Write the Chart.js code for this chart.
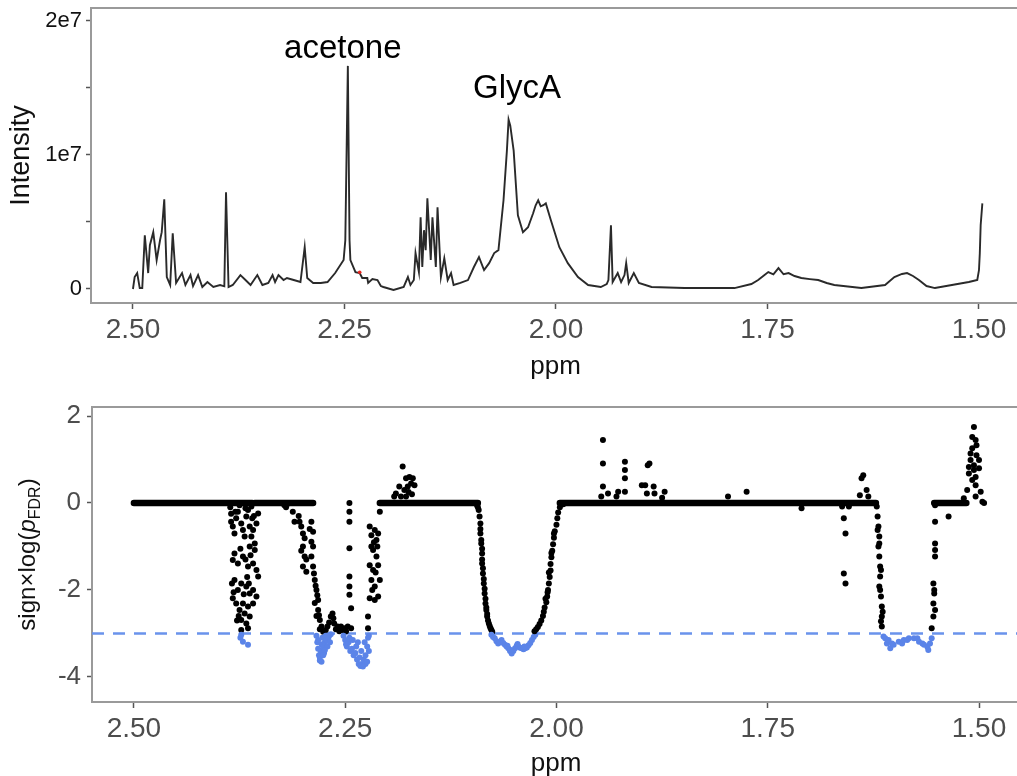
<!DOCTYPE html>
<html>
<head>
<meta charset="utf-8">
<script src="https://cdn.jsdelivr.net/npm/chart.js@4.4.1/dist/chart.umd.min.js"></script>
<style>
  html, body { margin: 0; padding: 0; background: #fff; overflow: hidden; width: 1017px; height: 776px; }
  #spectrum { position: absolute; left: 0; top: 0; }
  #pvalues { position: absolute; left: 0; top: 385px; }
</style>
</head>
<body>
<canvas id="spectrum" width="1030" height="385"></canvas>
<canvas id="pvalues" width="1030" height="400"></canvas>
<script>
// x axis (ppm, reversed)
const ppmTicks = [2.50, 2.25, 2.00, 1.75, 1.50];

// top panel: spectrum, intensity in units of 1e6
const specPpm = [
  2.500, 2.498, 2.495, 2.492, 2.489, 2.486, 2.482, 2.480, 2.476, 2.472, 2.468, 2.466, 2.463, 2.460, 2.456, 2.453,
  2.449, 2.442, 2.438, 2.432, 2.429, 2.423, 2.418, 2.412, 2.405, 2.397, 2.392, 2.390, 2.387, 2.382, 2.373, 2.367,
  2.361, 2.353, 2.347, 2.340, 2.335, 2.332, 2.328, 2.322, 2.318, 2.310, 2.302, 2.297, 2.294, 2.287, 2.278, 2.270,
  2.261, 2.251, 2.249, 2.246, 2.244, 2.243, 2.237, 2.232, 2.229, 2.223, 2.222, 2.217, 2.211, 2.207, 2.204, 2.192,
  2.180, 2.175, 2.172, 2.168, 2.166, 2.162, 2.160, 2.158, 2.156, 2.154, 2.152, 2.148, 2.146, 2.142, 2.140, 2.136,
  2.132, 2.128, 2.124, 2.121, 2.113, 2.104, 2.097, 2.091, 2.085, 2.079, 2.073, 2.068, 2.062, 2.058, 2.056, 2.054,
  2.050, 2.045, 2.039, 2.033, 2.027, 2.024, 2.021, 2.018, 2.015, 2.012, 2.006, 1.996, 1.986, 1.974, 1.962, 1.947,
  1.940, 1.938, 1.935, 1.933, 1.927, 1.923, 1.919, 1.917, 1.914, 1.908, 1.902, 1.887, 1.848, 1.789, 1.769, 1.761,
  1.755, 1.749, 1.743, 1.737, 1.731, 1.725, 1.718, 1.710, 1.700, 1.690, 1.680, 1.671, 1.639, 1.611, 1.600, 1.591,
  1.585, 1.578, 1.571, 1.562, 1.552, 1.532, 1.512, 1.502, 1.500, 1.499, 1.498, 1.496
];
const specInt = [
  0.00, 0.89, 1.19, 0.07, 0.07, 4.01, 1.19, 3.27, 4.24, 2.16, 3.64, 4.24, 6.69, 0.89, 0.30, 4.16,
  0.45, 1.19, 0.30, 1.04, 0.22, 1.04, 0.15, 0.52, 0.15, 0.30, 0.20, 7.21, 0.15, 0.30, 1.04, 0.67,
  0.30, 1.04, 0.30, 0.45, 1.04, 0.52, 1.04, 0.67, 0.82, 0.67, 0.52, 3.12, 0.82, 0.45, 0.45, 0.52,
  1.19, 2.16, 3.64, 16.65, 3.64, 2.16, 1.26, 1.19, 0.82, 0.82, 0.45, 0.74, 0.67, 0.22, 0.15, -0.07,
  0.15, 0.89, 0.30, 0.67, 2.68, 1.26, 5.35, 1.64, 4.39, 2.90, 6.77, 2.16, 5.35, 1.64, 6.10, 0.89,
  2.30, 0.67, 1.19, 0.30, 0.45, 0.67, 1.64, 2.38, 1.41, 1.93, 2.68, 2.90, 6.62, 10.33, 12.64, 12.19,
  10.33, 5.50, 4.24, 4.61, 5.65, 6.25, 6.62, 6.17, 6.25, 6.39, 5.13, 3.12, 1.93, 0.89, 0.30, 0.15,
  0.37, 0.67, 4.76, 0.52, 1.19, 0.52, 1.04, 1.93, 0.45, 1.19, 0.45, 0.15, 0.07, 0.07, 0.37, 0.67,
  0.97, 1.26, 1.10, 1.56, 1.10, 1.19, 0.97, 0.82, 0.74, 0.67, 0.45, 0.30, 0.07, 0.30, 0.89, 1.12,
  1.19, 0.97, 0.67, 0.22, 0.07, 0.30, 0.52, 0.67, 1.40, 2.68, 4.76, 6.39
];
const intensityTicks = [0, 5, 10, 15, 20];
const markPpm = [2.232];
const markInt = [1.25];

// peak labels
const labelText = ['acetone', 'GlycA'];
const labelPpm = [2.252, 2.046];
const labelInt = [17.25, 14.27];

// bottom panel: sign x log(pFDR)
const threshold = -3;
const pTicks = [-4, -2, 0, 2];
// stretches where every point sits at 0
const zeroFrom = [2.500, 2.357, 2.209, 1.996, 1.553];
const zeroTo   = [2.360, 2.288, 2.093, 1.622, 1.515];

const dip238 = [
  [2.386,-0.10],[2.385,-0.25],[2.385,-0.43],[2.383,-0.54],[2.381,-0.70],[2.380,-0.20],[2.379,-0.35],[2.377,-0.20],
  [2.375,-0.05],[2.373,-0.47],[2.371,-0.62],[2.369,-0.77],[2.368,-0.12],[2.367,-0.31],[2.365,-0.16],[2.363,-0.54],
  [2.361,-0.77],[2.361,-0.08],[2.360,-0.35],[2.359,-0.62],[2.358,-0.30],[2.357,-0.93],[2.355,-0.47],[2.353,-0.24],
  [2.357,-1.08],[2.363,-1.00],[2.374,-1.05],[2.381,-1.16],[2.383,-1.31],[2.377,-1.39],[2.371,-1.23],[2.368,-1.30],
  [2.362,-1.20],[2.365,-1.46],[2.359,-1.39],[2.355,-1.54],[2.353,-1.69],[2.366,-1.70],[2.381,-1.77],[2.384,-1.85],
  [2.377,-2.00],[2.373,-1.85],[2.367,-1.92],[2.364,-1.85],[2.363,-2.08],[2.359,-2.00],[2.355,-2.15],[2.382,-2.05],
  [2.383,-2.19],[2.370,-2.10],[2.379,-2.31],[2.371,-2.31],[2.365,-2.38],[2.359,-2.31],[2.375,-2.46],[2.369,-2.54],
  [2.376,-2.60],[2.363,-2.61],[2.373,-2.69],[2.378,-2.70],[2.367,-2.77],[2.365,-2.88],[2.373,-2.92],
  [2.374,-3.10],[2.373,-3.03],[2.371,-3.19],[2.365,-3.26]
];
const dip225 = [
  [2.322,-0.05],[2.320,-0.10],[2.318,-0.02],[2.312,-0.20],[2.310,-0.43],[2.305,-0.30],[2.304,-0.43],[2.302,-0.54],
  [2.300,-0.70],[2.298,-0.81],[2.300,-1.00],[2.302,-1.10],[2.298,-1.23],[2.296,-1.30],[2.300,-1.46],[2.296,-1.58],
  [2.292,-0.60],[2.290,-0.43],[2.288,-0.66],[2.290,-0.89],[2.288,-1.00],[2.290,-1.23],[2.288,-1.46],[2.287,-1.62],
  [2.286,-1.77],[2.285,-1.90],[2.284,-2.00],[2.283,-2.12],[2.282,-2.23],[2.282,-2.46],[2.286,-2.30],[2.284,-2.60],
  [2.281,-2.58],[2.280,-2.69],[2.280,-2.90],[2.278,-2.84],[2.276,-2.96],[2.273,-2.92],[2.271,-2.84],[2.269,-2.75],
  [2.267,-2.61],[2.265,-2.54],[2.264,-2.65],[2.263,-2.77],[2.261,-2.90],[2.259,-2.84],[2.257,-2.95],[2.255,-2.84],
  [2.253,-2.92],[2.251,-2.88],[2.249,-2.95],[2.247,-2.84],[2.243,-2.88],
  [2.245,0.00],[2.245,-0.20],[2.245,-0.43],[2.245,-1.04],[2.245,-1.69],[2.245,-1.92],[2.245,-2.11],[2.243,-2.42],
  [2.223,-2.61],[2.223,-2.88],
  [2.209,-0.20],[2.221,-0.54],[2.219,-0.74],[2.216,-0.90],[2.215,-0.62],[2.213,-0.85],[2.212,-1.00],[2.211,-0.70],
  [2.219,-1.00],[2.217,-1.08],[2.213,-1.23],[2.221,-1.43],[2.217,-1.54],[2.214,-1.60],[2.211,-1.43],[2.219,-1.77],
  [2.218,-2.00],[2.215,-1.92],[2.209,-1.77],[2.221,-2.19],[2.215,-2.23],[2.211,-2.15],
  [2.284,-3.05],[2.283,-3.20],[2.282,-3.35],[2.281,-3.50],[2.280,-3.62],[2.279,-3.40],[2.278,-3.25],[2.277,-3.10],
  [2.276,-3.30],[2.275,-3.45],[2.274,-3.20],[2.273,-3.05],[2.272,-3.15],[2.271,-3.30],[2.270,-3.10],[2.269,-3.05],
  [2.268,-3.20],[2.267,-3.02],[2.280,-3.55],[2.278,-3.65],[2.276,-3.50],[2.282,-3.15],[2.274,-3.38],
  [2.252,-3.05],[2.250,-3.15],[2.248,-3.30],[2.246,-3.20],[2.244,-3.40],[2.242,-3.35],[2.240,-3.50],[2.238,-3.45],
  [2.236,-3.60],[2.234,-3.70],[2.232,-3.75],[2.230,-3.70],[2.228,-3.60],[2.226,-3.50],[2.224,-3.30],[2.223,-3.10],
  [2.222,-3.05],[2.226,-3.70],[2.229,-3.76],[2.233,-3.55],[2.237,-3.30],[2.241,-3.15],[2.245,-3.10],[2.249,-3.25],
  [2.224,-3.65],[2.222,-3.40],[2.235,-3.20],[2.231,-3.40],[2.227,-3.20]
];
const up218 = [
  [2.192,0.15],[2.190,0.22],[2.186,0.38],[2.184,0.15],[2.182,0.84],[2.180,0.30],[2.178,0.57],[2.178,0.15],
  [2.176,0.38],[2.174,0.60],[2.172,0.45],[2.170,0.57],[2.168,0.41],[2.175,0.25],[2.171,0.20]
];
const dipGlycA = [
  [2.094,-0.05],[2.093,-0.10],[2.092,-0.16],[2.091,-0.31],[2.090,-0.47],[2.090,-0.60],[2.090,-0.70],[2.089,-0.85],
  [2.089,-0.93],[2.088,-1.05],[2.088,-1.16],[2.088,-1.30],[2.088,-1.39],[2.087,-1.50],[2.087,-1.62],[2.086,-1.75],
  [2.086,-1.85],[2.085,-1.97],[2.085,-2.08],[2.084,-2.20],[2.084,-2.31],[2.083,-2.40],[2.083,-2.46],[2.082,-2.55],
  [2.082,-2.61],[2.081,-2.70],[2.080,-2.77],[2.079,-2.83],[2.078,-2.88],[2.077,-2.92],[2.076,-2.96],
  [2.077,-3.03],[2.075,-3.08],[2.073,-3.11],[2.071,-3.18],[2.069,-3.23],[2.067,-3.20],[2.065,-3.15],[2.063,-3.22],
  [2.061,-3.26],[2.059,-3.30],[2.057,-3.34],[2.055,-3.40],[2.053,-3.46],[2.051,-3.40],[2.049,-3.34],[2.047,-3.28],
  [2.045,-3.30],[2.043,-3.33],[2.041,-3.34],[2.039,-3.36],[2.037,-3.34],[2.035,-3.32],[2.033,-3.27],[2.031,-3.22],
  [2.029,-3.15],[2.027,-3.08],[2.025,-3.03],[2.054,-3.38],[2.058,-3.28],[2.046,-3.24],[2.038,-3.30],
  [2.026,-2.95],[2.024,-2.90],[2.022,-2.85],[2.020,-2.78],[2.018,-2.70],[2.016,-2.60],[2.015,-2.50],[2.014,-2.40],
  [2.012,-2.28],[2.011,-2.15],[2.010,-2.00],[2.009,-1.85],[2.008,-1.70],[2.007,-1.55],[2.007,-1.40],[2.006,-1.25],
  [2.005,-1.10],[2.004,-0.95],[2.003,-0.80],[2.002,-0.65],[2.000,-0.50],[1.999,-0.35],[1.998,-0.22],[1.996,-0.10],
  [1.992,-0.03],[2.013,-2.20],[2.009,-1.60],[2.006,-1.15],[2.003,-0.70],[2.0105,-2.05]
];
const up19 = [
  [1.947,0.15],[1.945,1.45],[1.945,0.91],[1.945,0.38],[1.939,0.22],[1.929,0.15],[1.927,0.26],[1.919,0.95],
  [1.919,0.76],[1.919,0.57],[1.919,0.26],[1.899,0.41],[1.895,0.41],[1.893,0.22],[1.892,0.87],[1.890,0.91],
  [1.885,0.38],[1.884,0.22],[1.872,0.26],[1.875,0.12],[1.797,0.15],[1.775,0.26],[1.710,-0.12]
];
const dip16 = [
  [1.662,-0.08],[1.660,-0.35],[1.658,-0.70],[1.660,-1.62],[1.658,-1.85],[1.654,-0.08],[1.641,0.18],[1.639,0.57],
  [1.637,0.64],[1.633,0.30],[1.631,0.15],
  [1.621,-0.08],[1.620,-0.31],[1.619,-0.54],[1.618,-0.77],[1.619,-1.00],[1.618,-1.23],[1.617,-1.46],[1.617,-1.69],
  [1.618,-1.92],[1.616,-2.15],[1.615,-2.38],[1.615,-2.61],[1.615,-2.84],[1.620,-0.62],[1.618,-0.93],[1.616,-1.54],
  [1.617,-2.00],[1.614,-2.50],[1.616,-2.72],
  [1.613,-3.07],[1.611,-3.11],[1.609,-3.23],[1.607,-3.15],[1.605,-3.34],[1.603,-3.23],[1.601,-3.26],[1.595,-3.19],
  [1.591,-3.23],[1.589,-3.15],[1.585,-3.15],[1.583,-3.11],[1.577,-3.11],[1.573,-3.11],[1.571,-3.19],[1.567,-3.23],
  [1.565,-3.26],[1.561,-3.31],[1.560,-3.38],[1.558,-3.23],[1.556,-3.11],
  [1.556,-2.88],[1.554,-2.61],[1.552,-2.46],[1.554,-2.31],[1.553,-2.08],[1.553,-2.00],[1.554,-1.85],[1.552,-1.23],
  [1.552,-1.08],[1.552,-0.93],[1.552,-0.43],[1.552,-0.05],[1.536,-0.31]
];
const up15 = [
  [1.506,1.75],[1.508,1.52],[1.504,1.45],[1.503,1.33],[1.508,1.26],[1.510,1.14],[1.503,1.10],[1.510,0.99],
  [1.500,0.99],[1.506,0.87],[1.512,0.83],[1.500,0.80],[1.506,0.76],[1.512,0.68],[1.504,0.60],[1.508,0.53],
  [1.504,0.41],[1.514,0.30],[1.498,0.26],[1.504,0.15],[1.518,0.11],[1.496,0.03],[1.494,0.00]
];

const FONT = '"Liberation Sans", Arial, sans-serif';
const BLUE = '#5b84e8';

// keep the plot area where we put it: no extra room for edge labels
function noPad(s) { s.paddingTop = 0; s.paddingBottom = 0; s.paddingLeft = 0; s.paddingRight = 0; }

function ppmAxis(height, titlePad) {
  return {
    type: 'linear', reverse: true, min: 1.4515, max: 2.5496,
    afterBuildTicks: s => { s.ticks = ppmTicks.map(v => ({ value: v })); },
    afterFit: s => { s.height = height; noPad(s); },
    ticks: { callback: v => v.toFixed(2), color: '#4d4d4d', font: { family: FONT, size: 28 }, padding: 4, autoSkip: false, maxRotation: 0 },
    grid: { drawOnChartArea: false, tickLength: 6, tickColor: '#555', tickWidth: 1.5 },
    border: { display: false },
    title: { display: true, text: 'ppm', color: '#111', font: { family: FONT, size: 26 }, padding: { top: 0, bottom: titlePad } }
  };
}

// grey frame round the plot area
const frame = {
  id: 'frame',
  beforeDatasetsDraw(chart) {
    const { left, top, right, bottom } = chart.chartArea;
    const ctx = chart.ctx;
    ctx.save();
    ctx.strokeStyle = '#9a9a9a';
    ctx.lineWidth = 2;
    ctx.strokeRect(left, top, right - left, bottom - top);
    ctx.restore();
  }
};

const peakLabels = {
  id: 'peakLabels',
  afterDatasetsDraw(chart) {
    const ctx = chart.ctx;
    ctx.save();
    ctx.fillStyle = '#000';
    ctx.font = '33px ' + FONT;
    ctx.textAlign = 'center';
    ctx.textBaseline = 'alphabetic';
    labelText.forEach((t, i) => {
      ctx.fillText(t, chart.scales.x.getPixelForValue(labelPpm[i]), chart.scales.y.getPixelForValue(labelInt[i]));
    });
    ctx.restore();
  }
};

// y title with italic p and subscript FDR
const pTitle = {
  id: 'pTitle',
  afterDraw(chart) {
    const ctx = chart.ctx;
    const { top, bottom } = chart.chartArea;
    const parts = [
      { t: 'sign\u00d7log(', f: '24px ' + FONT, dy: 0 },
      { t: 'p', f: 'italic 24px ' + FONT, dy: 0 },
      { t: 'FDR', f: '16px ' + FONT, dy: 5 },
      { t: ')', f: '24px ' + FONT, dy: 0 }
    ];
    ctx.save();
    let w = 0;
    parts.forEach(p => { ctx.font = p.f; p.w = ctx.measureText(p.t).width; w += p.w; });
    ctx.translate(35, (top + bottom) / 2);
    ctx.rotate(-Math.PI / 2);
    ctx.fillStyle = '#111';
    ctx.textBaseline = 'alphabetic';
    let x = -w / 2;
    parts.forEach(p => { ctx.font = p.f; ctx.fillText(p.t, x, p.dy); x += p.w; });
    ctx.restore();
  }
};

new Chart(document.getElementById('spectrum'), {
  type: 'line',
  data: {
    datasets: [
      {
        data: markPpm.map((x, i) => ({ x, y: markInt[i] })),
        showLine: false, pointRadius: 1.8, pointBackgroundColor: '#e8261e', pointBorderWidth: 0
      },
      {
        data: specPpm.map((x, i) => ({ x, y: specInt[i] })),
        borderColor: '#2a2a2a', borderWidth: 1.9, pointRadius: 0, tension: 0
      }
    ]
  },
  options: {
    responsive: false, animation: false, events: [],
    layout: { padding: { top: 8, right: 10, left: 0, bottom: 0 } },
    plugins: { legend: { display: false }, tooltip: { enabled: false } },
    scales: {
      x: ppmAxis(82, 3),
      y: {
        min: -1.045, max: 20.97,
        afterBuildTicks: s => { s.ticks = intensityTicks.map(v => ({ value: v })); },
        afterFit: s => { s.width = 91; noPad(s); },
        ticks: {
          callback: v => v === 0 ? '0' : (v % 10 === 0 ? (v / 10) + 'e7' : ''),
          color: '#111', font: { family: FONT, size: 22 }, padding: 4
        },
        grid: { drawOnChartArea: false, tickLength: 5, tickColor: '#555', tickWidth: 1.5 },
        border: { display: false },
        title: { display: true, text: 'Intensity', color: '#111', font: { family: FONT, size: 27 }, padding: { top: 5, bottom: 0 } }
      }
    }
  },
  plugins: [frame, peakLabels]
});

const zeroLine = [];
zeroFrom.forEach((a, i) => { zeroLine.push({ x: a, y: 0 }, { x: zeroTo[i], y: 0 }, { x: (zeroTo[i] + (zeroFrom[i + 1] || 1.4)) / 2, y: null }); });
const allPoints = [].concat(dip238, dip225, up218, dipGlycA, up19, dip16, up15);

new Chart(document.getElementById('pvalues'), {
  type: 'line',
  data: {
    datasets: [
      {
        data: allPoints.map(p => ({ x: p[0], y: p[1] })),
        showLine: false, pointRadius: 3, pointBorderWidth: 0,
        pointBackgroundColor: c => (c.raw && c.raw.y < threshold) ? BLUE : '#000'
      },
      {
        data: zeroLine, spanGaps: false,
        borderColor: '#000', borderWidth: 6.5, borderCapStyle: 'round', pointRadius: 0
      },
      {
        data: [{ x: 2.5496, y: threshold }, { x: 1.4515, y: threshold }],
        borderColor: '#6a93ec', borderWidth: 2.5, borderDash: [12, 9], pointRadius: 0
      }
    ]
  },
  options: {
    responsive: false, animation: false, events: [],
    layout: { padding: { top: 22, right: 10, left: 0, bottom: 0 } },
    plugins: { legend: { display: false }, tooltip: { enabled: false } },
    scales: {
      x: ppmAxis(83, 6),
      y: {
        min: -4.575, max: 2.207,
        afterBuildTicks: s => { s.ticks = pTicks.map(v => ({ value: v })); },
        afterFit: s => { s.width = 92; noPad(s); },
        ticks: { callback: v => String(v), color: '#4d4d4d', font: { family: FONT, size: 26 }, padding: 6 },
        grid: { drawOnChartArea: false, tickLength: 5, tickColor: '#555', tickWidth: 1.5 },
        border: { display: false },
        title: { display: false }
      }
    }
  },
  plugins: [frame, pTitle]
});
</script>
</body>
</html>
